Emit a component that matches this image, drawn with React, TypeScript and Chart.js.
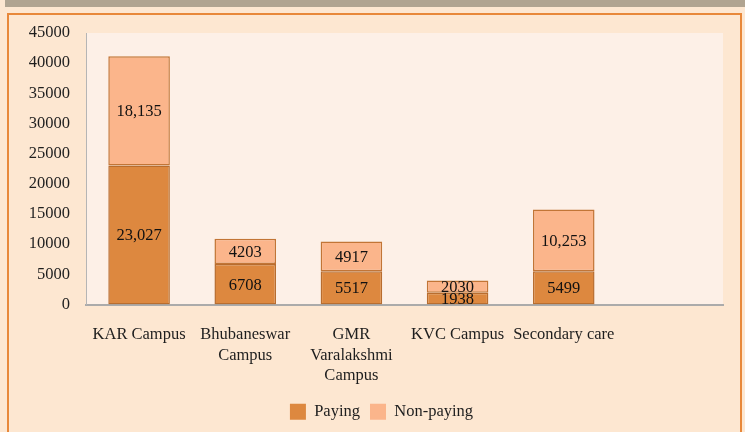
import React, { useEffect, useRef } from "react";
import { Chart, registerables } from "chart.js";

Chart.register(...registerables);

const categories: (string | string[])[] = [
  "KAR Campus",
  ["Bhubaneswar", "Campus"],
  ["GMR", "Varalakshmi", "Campus"],
  "KVC Campus",
  "Secondary care",
  "",
];
const payingValues: (number | null)[] = [23027, 6708, 5517, 1938, 5499, null];
const nonPayingValues: (number | null)[] = [18135, 4203, 4917, 2030, 10253, null];
const seriesNames = ["Paying", "Non-paying"];
const yTicks = [0, 5000, 10000, 15000, 20000, 25000, 30000, 35000, 40000, 45000];

const FONT = "'Liberation Serif', serif";
const FS = 16.5;
const TEXT = "#1e1e1e";

const fmt = (v: number) => (v >= 10000 ? v.toLocaleString("en-US") : String(v));

const plotBg = {
  id: "plotBg",
  beforeDraw(chart: any) {
    const { ctx, chartArea } = chart;
    ctx.save();
    ctx.fillStyle = "#fdf0e7";
    ctx.fillRect(chartArea.left, chartArea.top, chartArea.right - chartArea.left, chartArea.bottom - chartArea.top);
    ctx.restore();
  },
};

const legendShift = {
  id: "legendShift",
  afterLayout(chart: any) {
    if (chart.legend) chart.legend.left += 40;
  },
};

const segLabels = {
  id: "segLabels",
  afterDatasetsDraw(chart: any) {
    const { ctx } = chart;
    ctx.save();
    ctx.font = `${FS}px ${FONT}`;
    ctx.fillStyle = "#111";
    ctx.textAlign = "center";
    ctx.textBaseline = "middle";
    chart.data.datasets.forEach((ds: any, di: number) => {
      const meta = chart.getDatasetMeta(di);
      meta.data.forEach((el: any, i: number) => {
        const v = ds.data[i];
        if (v == null) return;
        const { x, y, base } = el.getProps(["x", "y", "base"], true);
        ctx.fillText(fmt(v), x, (y + base) / 2 + 1);
      });
    });
    ctx.restore();
  },
};

export default function App() {
  const ref = useRef<HTMLCanvasElement>(null);
  useEffect(() => {
    document.body.style.margin = "0";
    const chart = new Chart(ref.current!, {
      type: "bar",
      data: {
        labels: categories,
        datasets: [
          {
            label: seriesNames[0],
            data: payingValues,
            backgroundColor: "#dd883f",
            borderColor: "#b86d2f",
            borderWidth: 1.5,
            borderSkipped: false,
          },
          {
            label: seriesNames[1],
            data: nonPayingValues,
            backgroundColor: "#fbb58b",
            borderColor: "#c27536",
            borderWidth: 1.5,
            borderSkipped: false,
          },
        ],
      },
      options: {
        animation: false,
        responsive: false,
        maintainAspectRatio: false,
        layout: { padding: { top: 33, right: 22, left: 0, bottom: 2 } },
        datasets: { bar: { categoryPercentage: 1, barPercentage: 0.58 } } as any,
        scales: {
          x: {
            stacked: true,
            grid: { display: false, drawTicks: false },
            border: { display: true, color: "#ababab", width: 2 },
            ticks: {
              color: TEXT,
              font: { family: FONT, size: FS, lineHeight: 1.25 },
              padding: 20,
              maxRotation: 0,
              autoSkip: false,
            },
            afterFit(scale: any) {
              scale.height = 89;
            },
          },
          y: {
            stacked: true,
            min: 0,
            max: 45000,
            afterBuildTicks(scale: any) {
              scale.ticks = yTicks.map((v) => ({ value: v }));
            },
            grid: { display: false, drawTicks: false },
            border: { display: true, color: "#b5b5b5", width: 1 },
            ticks: {
              color: TEXT,
              font: { family: FONT, size: FS },
              padding: 16,
              callback: (v: any) => String(v),
            },
            afterFit(scale: any) {
              scale.width = 86;
            },
          },
        },
        plugins: {
          legend: {
            position: "bottom",
            labels: {
              color: TEXT,
              font: { family: FONT, size: FS },
              boxWidth: 16,
              boxHeight: 16,
              padding: 10,
              generateLabels(chart: any) {
                const items = Chart.defaults.plugins.legend.labels.generateLabels(chart);
                return items.map((it: any) => ({ ...it, lineWidth: 0, strokeStyle: "rgba(0,0,0,0)" }));
              },
            },
          },
          tooltip: { enabled: false },
          title: { display: false },
        },
      },
      plugins: [plotBg, segLabels, legendShift],
    });
    return () => chart.destroy();
  }, []);

  return (
    <div style={{ position: "relative", width: 745, height: 432, overflow: "hidden", background: "#fde7d1" }}>
      <div style={{ position: "absolute", left: 5, top: 0, width: 740, height: 7, background: "#b0a491" }} />
      <div
        style={{
          position: "absolute",
          left: 7,
          top: 13,
          width: 735,
          height: 440,
          border: "2px solid #e8883a",
          background: "#fde7d1",
          boxSizing: "border-box",
        }}
      />
      <canvas ref={ref} width={745} height={432} style={{ position: "absolute", left: 0, top: 0 }} />
    </div>
  );
}
